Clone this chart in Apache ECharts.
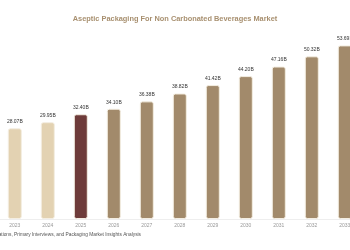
<!DOCTYPE html>
<html><head><meta charset="utf-8">
<script src="https://cdn.jsdelivr.net/npm/echarts@6/dist/echarts.min.js"></script>
<style>html,body{margin:0;padding:0;background:#fff}#c{width:350px;height:250px}</style>
</head><body><div id="c"></div>
<script>
var categories = ['2023','2024','2025','2026','2027','2028','2029','2030','2031','2032','2033'];
var values = [28.07, 29.95, 32.40, 34.10, 36.38, 38.82, 41.42, 44.20, 47.16, 50.32, 53.69];
var barColors = ['#e3d2b2','#e3d2b2','#6e3b3a','#a28a6b','#a28a6b','#a28a6b','#a28a6b','#a28a6b','#a28a6b','#a28a6b','#a28a6b'];
var titleText = 'Aseptic Packaging For Non Carbonated Beverages Market';
var sourceText = 'Source: Secondary Research, Interviews with Experts, Industry Publications, Primary Interviews, and Packaging Market Insights Analysis';

var chart = echarts.init(document.getElementById('c'));
chart.setOption({
  animation: false,
  title: {text: titleText, left: 'center', top: 10, textStyle: {fontSize: 7.4, fontWeight: 'bold', color: '#a89070', fontFamily: 'Liberation Sans, Arial, sans-serif'}},
  grid: {left: -1.7, width: 363, top: 25, bottom: 31, containLabel: false, outerBoundsMode: 'none'},
  xAxis: {type: 'category', data: categories,
    axisLine: {lineStyle: {color: '#eeeeee'}}, axisTick: {show: false},
    axisLabel: {fontSize: 5, color: '#999', margin: 4, fontFamily: 'Liberation Sans, Arial, sans-serif'}},
  yAxis: {type: 'value', min: 0, max: 60, show: false, splitLine: {show: false}},
  series: [{type: 'bar', barWidth: 14,
    data: values.map(function(v, i){ return {value: v, itemStyle: {color: barColors[i]}}; }),
    itemStyle: {borderColor: '#f4eee2', borderWidth: 1, borderRadius: 2},
    label: {show: true, position: 'top', distance: 4, fontSize: 5, color: '#333',
      fontFamily: 'Liberation Sans, Arial, sans-serif',
      formatter: function(p){ return p.value.toFixed(2) + 'B'; }}
  }],
  graphic: [{type: 'text', right: 209, top: 232,
    style: {text: sourceText, fontSize: 4.8, fill: '#555', fontFamily: 'Liberation Sans, Arial, sans-serif'}}]
});
</script></body></html>
